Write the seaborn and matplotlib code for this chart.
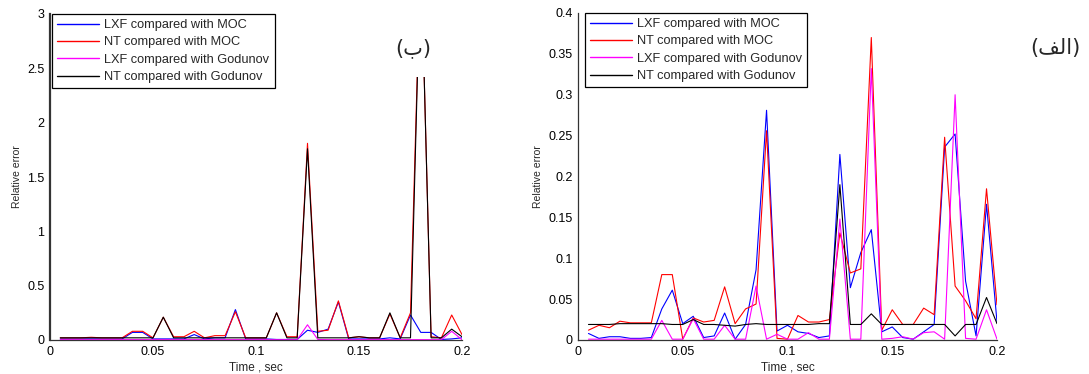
import matplotlib
matplotlib.use("Agg")
import matplotlib.pyplot as plt
import matplotlib.ticker as mticker
from matplotlib.patches import Rectangle
import pandas as pd
import seaborn as sns

# ---------------- data ----------------
time = [0.005, 0.010, 0.015, 0.020, 0.025, 0.030, 0.035, 0.040, 0.045, 0.050,
        0.055, 0.060, 0.065, 0.070, 0.075, 0.080, 0.085, 0.090, 0.095, 0.100,
        0.105, 0.110, 0.115, 0.120, 0.125, 0.130, 0.135, 0.140, 0.145, 0.150,
        0.155, 0.160, 0.165, 0.170, 0.175, 0.180, 0.185, 0.190, 0.195, 0.200]

series_names = ["LXF compared with MOC", "NT compared with MOC",
                "LXF compared with Godunov", "NT compared with Godunov"]

# left panel (ب)
b_lxf_moc = [0.01, 0.01, 0.01, 0.01, 0.01, 0.01, 0.01, 0.07, 0.07, 0.01,
             0.01, 0.01, 0.01, 0.05, 0.01, 0.02, 0.02, 0.28, 0.01, 0.01,
             0.01, 0.005, 0.005, 0.005, 0.09, 0.07, 0.10, 0.35, 0.01, 0.01,
             0.01, 0.01, 0.02, 0.01, 0.23, 0.07, 0.07, 0.005, 0.01, 0.02]
b_nt_moc = [0.02, 0.02, 0.02, 0.025, 0.02, 0.02, 0.02, 0.08, 0.08, 0.02,
            0.21, 0.03, 0.03, 0.08, 0.02, 0.04, 0.04, 0.26, 0.02, 0.02,
            0.02, 0.25, 0.03, 0.03, 1.81, 0.08, 0.09, 0.36, 0.02, 0.03,
            0.02, 0.02, 0.24, 0.02, 0.25, 3.6, 0.03, 0.02, 0.23, 0.05]
b_lxf_god = [0.003, 0.003, 0.003, 0.003, 0.003, 0.003, 0.003, 0.003, 0.003, 0.003,
             0.003, 0.003, 0.003, 0.003, 0.003, 0.003, 0.003, 0.003, 0.003, 0.003,
             0.003, 0.003, 0.003, 0.003, 0.14, 0.005, 0.003, 0.003, 0.003, 0.003,
             0.003, 0.003, 0.003, 0.003, 0.003, 0.003, 0.003, 0.003, 0.08, 0.003]
b_nt_god = [0.02, 0.02, 0.02, 0.02, 0.02, 0.02, 0.02, 0.02, 0.02, 0.02,
            0.21, 0.02, 0.02, 0.02, 0.02, 0.02, 0.02, 0.02, 0.02, 0.02,
            0.02, 0.25, 0.02, 0.02, 1.76, 0.02, 0.02, 0.02, 0.02, 0.03,
            0.02, 0.02, 0.25, 0.02, 0.02, 3.6, 0.02, 0.02, 0.10, 0.03]

# right panel (الف)
a_lxf_moc = [0.008, 0.002, 0.004, 0.004, 0.002, 0.002, 0.003, 0.038, 0.061, 0.020,
             0.029, 0.003, 0.005, 0.033, 0.001, 0.019, 0.086, 0.281, 0.011, 0.018,
             0.010, 0.008, 0.003, 0.005, 0.227, 0.064, 0.107, 0.135, 0.010, 0.016,
             0.003, 0.001, 0.010, 0.019, 0.236, 0.252, 0.072, 0.005, 0.166, 0.022]
a_nt_moc = [0.012, 0.018, 0.015, 0.023, 0.021, 0.021, 0.021, 0.080, 0.080, 0.001,
            0.027, 0.022, 0.024, 0.065, 0.020, 0.038, 0.044, 0.256, 0.002, 0.001,
            0.030, 0.022, 0.022, 0.025, 0.131, 0.082, 0.087, 0.370, 0.012, 0.037,
            0.019, 0.019, 0.039, 0.031, 0.248, 0.066, 0.048, 0.026, 0.185, 0.043]
a_lxf_god = [0.001, 0.001, 0.001, 0.001, 0.001, 0.001, 0.001, 0.024, 0.001, 0.001,
             0.026, 0.001, 0.001, 0.018, 0.001, 0.001, 0.066, 0.001, 0.007, 0.001,
             0.001, 0.009, 0.001, 0.001, 0.148, 0.001, 0.001, 0.332, 0.001, 0.002,
             0.004, 0.001, 0.009, 0.010, 0.001, 0.300, 0.002, 0.001, 0.037, 0.001]
a_nt_god = [0.019, 0.019, 0.019, 0.020, 0.020, 0.020, 0.020, 0.020, 0.019, 0.019,
            0.025, 0.019, 0.019, 0.018, 0.017, 0.019, 0.020, 0.019, 0.019, 0.019,
            0.019, 0.019, 0.020, 0.020, 0.190, 0.019, 0.019, 0.032, 0.019, 0.019,
            0.019, 0.019, 0.019, 0.019, 0.019, 0.005, 0.019, 0.019, 0.052, 0.020]

x_ticks = [0, 0.05, 0.1, 0.15, 0.2]
left_y_ticks = [0, 0.5, 1, 1.5, 2, 2.5, 3]
right_y_ticks = [0, 0.05, 0.1, 0.15, 0.2, 0.25, 0.3, 0.35, 0.4]

colors = {series_names[0]: "#0000ff", series_names[1]: "#ff0000",
          series_names[2]: "#ff00ff", series_names[3]: "#000000"}


def long_frame(values):
    rows = []
    for name, vals in zip(series_names, values):
        for t, v in zip(time, vals):
            rows.append({"Time": t, "err": v, "series": name})
    return pd.DataFrame(rows)


sns.set_style("white")
plt.rcParams["font.family"] = ["Liberation Sans", "DejaVu Sans"]

fig = plt.figure(figsize=(10.89, 3.74), dpi=100)
ax_l = fig.add_axes([50 / 1089, 34 / 374, 412 / 1089, 326 / 374])
ax_r = fig.add_axes([578 / 1089, 34 / 374, 419 / 1089, 327 / 374])

panels = [
    (ax_l, [b_lxf_moc, b_nt_moc, b_lxf_god, b_nt_god], left_y_ticks, 3.0, 0.005),
    (ax_r, [a_lxf_moc, a_nt_moc, a_lxf_god, a_nt_god], right_y_ticks, 0.4, 0.016),
]

for ax, vals, yt, ymax, legx in panels:
    df = long_frame(vals)
    sns.lineplot(data=df, x="Time", y="err", hue="series", hue_order=series_names,
                 palette=colors, linewidth=0.8, ax=ax, legend=True)
    ax.set_xlim(0, 0.2)
    ax.set_ylim(0, ymax)
    ax.set_xticks(x_ticks)
    ax.set_yticks(yt)
    fmt = mticker.FormatStrFormatter("%g")
    ax.xaxis.set_major_formatter(fmt)
    ax.yaxis.set_major_formatter(fmt)
    ax.tick_params(direction="in", length=3, width=0.7, labelsize=9,
                   colors="black", pad=4)
    for s in ["top", "right"]:
        ax.spines[s].set_visible(False)
    for s in ["left", "bottom"]:
        ax.spines[s].set_color("#333333")
        ax.spines[s].set_linewidth(0.9)
    ax.set_xlabel("Time , sec", fontsize=8.5, labelpad=3)
    ax.set_ylabel("Relative error", fontsize=7.5, labelpad=4)
    handles, labels = ax.get_legend_handles_labels()
    leg = ax.legend(handles, labels, loc="upper left", bbox_to_anchor=(legx, 1.0),
                    borderaxespad=0, fontsize=9.2, handlelength=3.3,
                    handletextpad=0.4, labelspacing=0.42, borderpad=0.4,
                    fancybox=False, framealpha=1, edgecolor="black")
    leg.get_frame().set_linewidth(0.9)
    for h in leg.get_lines():
        h.set_linewidth(1.0)
    leg.set_zorder(6)

ax_l.spines["left"].set_linewidth(1.6)

# white cover behind the panel label (as in the reference)
ax_l.add_patch(Rectangle((0.16, 2.42), 0.04, 0.7, transform=ax_l.transData,
                         facecolor="white", edgecolor="none", zorder=4, clip_on=False))

# Arabic panel labels (presentation forms, visual order)
fig.text(413 / 1089, 1 - 48 / 374, "(\uFE8F)", fontsize=15, ha="center", va="center",
         family=["DejaVu Sans"], zorder=7)
fig.text(1055 / 1089, 1 - 48 / 374, "(\uFED2\uFEDF\uFE8D)", fontsize=15, ha="center",
         va="center", family=["DejaVu Sans"], zorder=7)

fig.savefig("out.png", dpi=100)
